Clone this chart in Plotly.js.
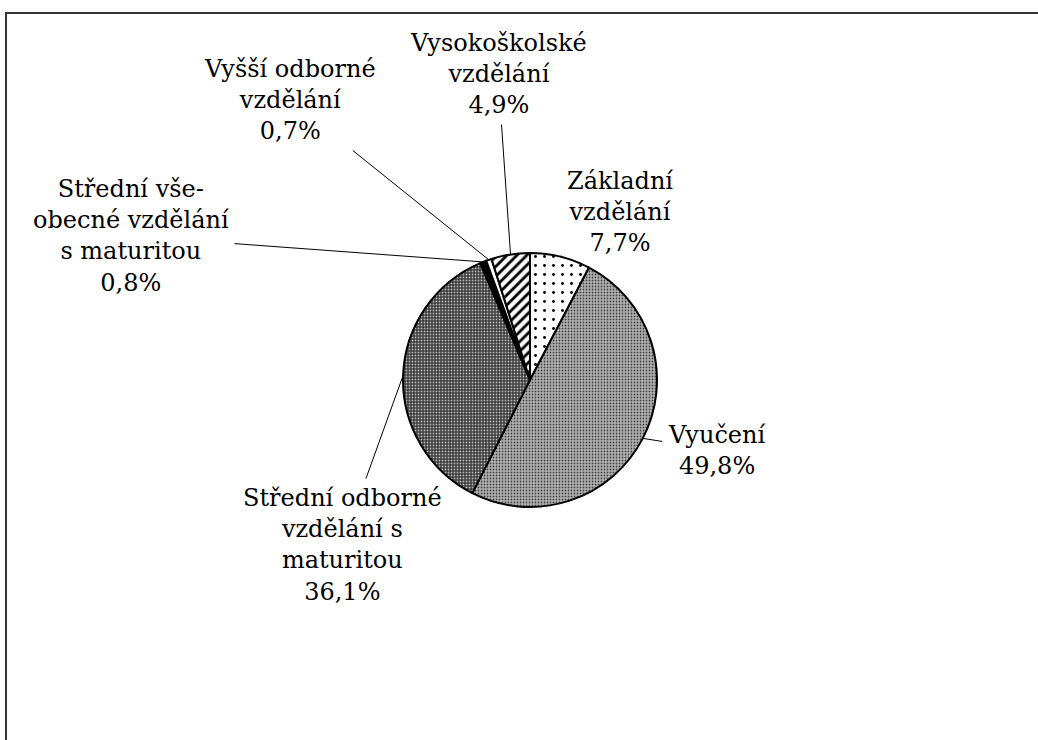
<!DOCTYPE html>
<html>
<head>
<meta charset="utf-8">
<script src="https://cdn.plot.ly/plotly-3.0.1.min.js"></script>
<style>
  html, body { margin: 0; padding: 0; background: #fff; }
  #plot { width: 1038px; height: 740px; }
</style>
</head>
<body>
<div id="plot"></div>
<script>
// categories, clockwise from 12 o'clock
const categories = [
  'Základní vzdělání',
  'Vyučení',
  'Střední odborné vzdělání s maturitou',
  'Střední všeobecné vzdělání s maturitou',
  'Vyšší odborné vzdělání',
  'Vysokoškolské vzdělání'
];
// label text as wrapped in the chart
const labelLines = [
  ['Základní', 'vzdělání'],
  ['Vyučení'],
  ['Střední odborné', 'vzdělání s', 'maturitou'],
  ['Střední vše-', 'obecné vzdělání', 's maturitou'],
  ['Vyšší odborné', 'vzdělání'],
  ['Vysokoškolské', 'vzdělání']
];
const shares = [7.7, 49.8, 36.1, 0.8, 0.7, 4.9];

// page geometry (px)
const W = 1038, H = 740;
const cx = 530, cy = 380, R = 127;
// where each label block sits (px, from top-left)
const labelPos = [
  [620, 212], [716, 450], [342, 545], [131, 236], [290, 100], [498, 74]
];

const SERIF = 'DejaVu Serif';
const fmt = v => v.toFixed(1).replace('.', ',') + '%';

const total = shares.reduce((a, b) => a + b, 0);
let cum = 0;
const annotations = shares.map((v, i) => {
  const mid = (cum + v / 2) / total;
  cum += v;
  const th = mid * 2 * Math.PI;
  const tx = cx + R * Math.sin(th);
  const ty = cy - R * Math.cos(th);
  return {
    x: tx / W, y: 1 - ty / H, xref: 'paper', yref: 'paper',
    ax: labelPos[i][0] - tx, ay: labelPos[i][1] - ty,
    axref: 'pixel', ayref: 'pixel',
    text: labelLines[i].concat([fmt(v)]).join('<br>'),
    showarrow: true, arrowhead: 0, arrowwidth: 1, arrowcolor: '#000',
    standoff: 0, borderpad: 5,
    font: { family: SERIF, size: 24, color: '#000' }
  };
});

const trace = {
  type: 'pie',
  labels: categories,
  values: shares,
  sort: false,
  direction: 'clockwise',
  rotation: 0,
  textinfo: 'none',
  hoverinfo: 'skip',
  showlegend: false,
  domain: { x: [(cx - R) / W, (cx + R) / W], y: [1 - (cy + R) / H, 1 - (cy - R) / H] },
  marker: {
    colors: ['#ffffff', '#a8a8a8', '#4a4a4a', '#000000', '#ffffff', '#ffffff'],
    line: { color: '#000', width: 2 },
    pattern: {
      shape: ['.', '.', '.', '', '', '/'],
      fgcolor: ['#000', '#444444', '#b8b8b8', '#000', '#000', '#000'],
      bgcolor: ['#ffffff', '#b4b4b4', '#3a3a3a', '#000000', '#ffffff', '#ffffff'],
      size: [9, 3, 3, 8, 8, 7],
      solidity: [0.08, 0.3, 0.3, 0.3, 0.3, 0.4],
      fillmode: 'replace'
    }
  }
};

const layout = {
  width: W, height: H,
  margin: { l: 0, r: 0, t: 0, b: 0 },
  paper_bgcolor: '#fff',
  font: { family: SERIF, color: '#000' },
  showlegend: false,
  annotations: annotations,
  shapes: [{
    type: 'rect', xref: 'paper', yref: 'paper',
    x0: 6 / W, x1: 1.01, y0: -0.01, y1: 1 - 13 / H,
    line: { color: '#333', width: 2 }
  }]
};

Plotly.newPlot('plot', [trace], layout, { staticPlot: true });
</script>
</body>
</html>
